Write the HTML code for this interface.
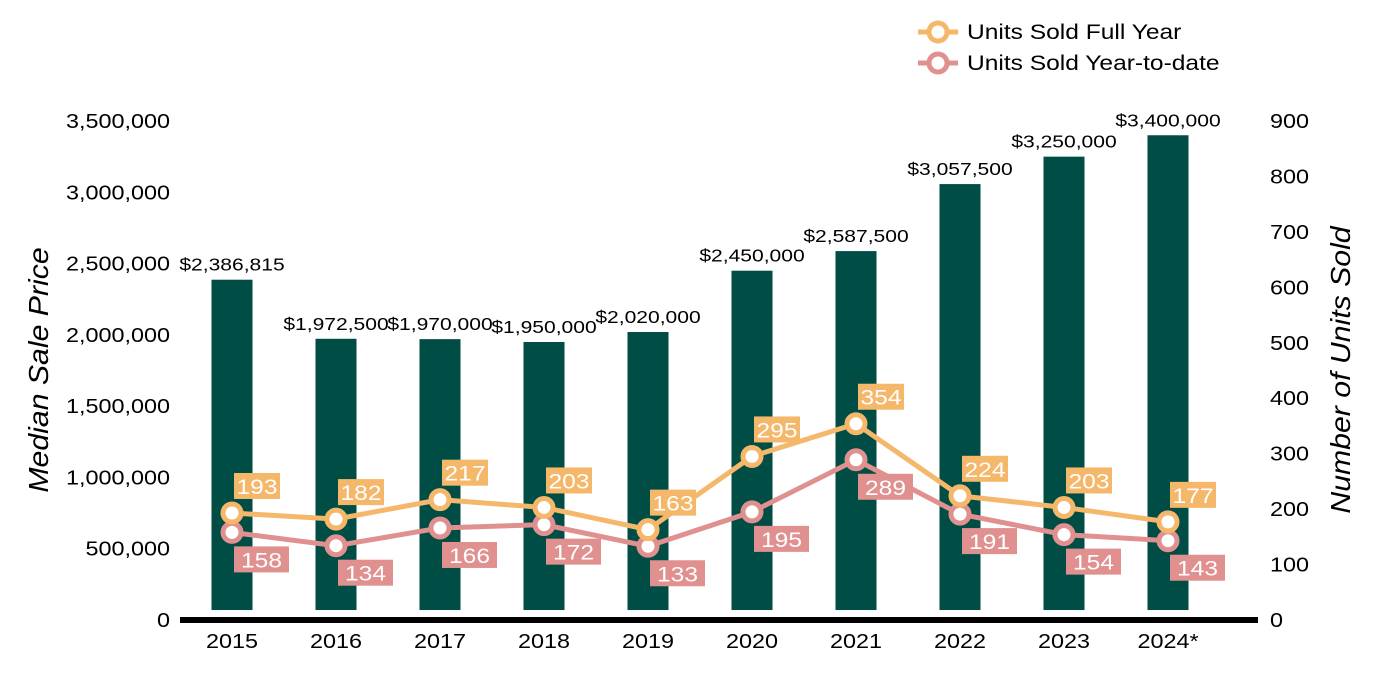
<!DOCTYPE html>
<html><head><meta charset="utf-8"><style>
body{margin:0;background:#fff;}
svg{display:block;font-family:"Liberation Sans",Arial,sans-serif;}
</style></head><body>
<svg id="chart" width="1400" height="700">
</svg>
<script>
const years=["2015","2016","2017","2018","2019","2020","2021","2022","2023","2024*"];
const prices=[2386815,1972500,1970000,1950000,2020000,2450000,2587500,3057500,3250000,3400000];
const priceLabels=["$2,386,815","$1,972,500","$1,970,000","$1,950,000","$2,020,000","$2,450,000","$2,587,500","$3,057,500","$3,250,000","$3,400,000"];
const fullYear=[193,182,217,203,163,295,354,224,203,177];
const ytd=[158,134,166,172,133,195,289,191,154,143];
const leftTicks=[0,500000,1000000,1500000,2000000,2500000,3000000,3500000];
const rightTicks=[0,100,200,300,400,500,600,700,800,900];
const NS="http://www.w3.org/2000/svg";
const svg=document.getElementById('chart');
const y0=620,yTop=121,SX=1.17;
const yL=v=>y0-v/3500000*(y0-yTop);
const yR=v=>y0-v/900*(y0-yTop);
const xC=i=>232+i*104;
function el(t,a,txt){const e=document.createElementNS(NS,t);for(const k in a)e.setAttribute(k,a[k]);if(txt!=null)e.textContent=txt;svg.appendChild(e);return e;}
function tx(x,y,a,txt){a.x=0;a.y=0;a.transform='translate('+x+','+y+') scale('+SX+',1)';return el('text',a,txt);}
leftTicks.forEach(v=>{const t=tx(170,yL(v)+7,{'text-anchor':'end','font-size':20,fill:'#000'},v.toLocaleString('en-US'));

});
rightTicks.forEach(v=>{const t=tx(1270,yR(v)+7,{'font-size':20,fill:'#000'},String(v));

});
let t=el('text',{x:0,y:0,transform:'translate(48,370) rotate(-90) scale(1.08,1)','text-anchor':'middle','font-size':28,'font-style':'italic'},'Median Sale Price');


t=el('text',{x:0,y:0,transform:'translate(1350,370) rotate(-90) scale(1.08,1)','text-anchor':'middle','font-size':28,'font-style':'italic'},'Number of Units Sold');


prices.forEach((v,i)=>{const b=el('rect',{x:xC(i)-20.5,y:yL(v),width:41,height:610-yL(v),fill:'#004d45'});


const l=tx(xC(i),yL(v)-9,{'text-anchor':'middle','font-size':18,fill:'#000'},priceLabels[i]);


const x=tx(xC(i),648,{'text-anchor':'middle','font-size':20,fill:'#000'},years[i]);

});
const ax=el('rect',{x:180,y:617,width:1078,height:6,fill:'#000'});


function series(vals,color,name,above){
const ln=el('polyline',{points:vals.map((v,i)=>xC(i)+','+yR(v)).join(' '),fill:'none',stroke:color,'stroke-width':5});


vals.forEach((v,i)=>{const c=el('circle',{cx:xC(i),cy:yR(v),r:9,fill:'#fff',stroke:color,'stroke-width':5});

});
vals.forEach((v,i)=>{const w=above?46:55;const by=above?yR(v)-40:yR(v)+14;
const r=el('rect',{x:xC(i)+2,y:by,width:w,height:26,fill:color});


const l=tx(xC(i)+2+w/2,by+21,{'text-anchor':'middle','font-size':21,fill:'#fff'},String(v));

});}
series(ytd,'#e0918f','ytd',false);
series(fullYear,'#f5b76a','full-year',true);
[['Units Sold Full Year','#f5b76a',32],['Units Sold Year-to-date','#e0918f',63]].forEach(([n,c,y])=>{
const g=el('line',{x1:918,y1:y,x2:958,y2:y,stroke:c,'stroke-width':5});


const cc=el('circle',{cx:938,cy:y,r:9,fill:'#fff',stroke:c,'stroke-width':5});


const tt=tx(967,y+7,{'font-size':21,fill:'#000'},n);

});
</script>
</body></html>
